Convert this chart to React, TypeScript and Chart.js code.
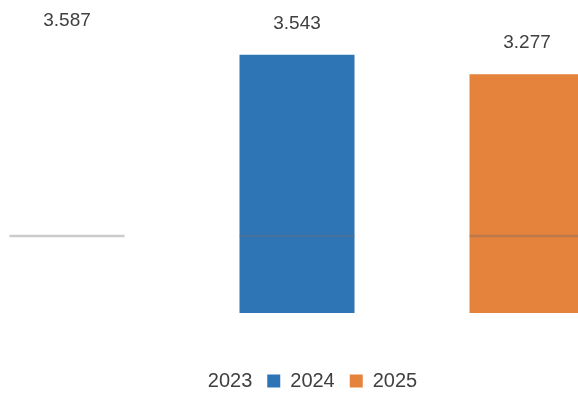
import React, { useEffect, useRef } from "react";
import { Chart, registerables } from "chart.js";

Chart.register(...registerables);

const categories = ["2023", "2024", "2025"];
const seriesNames = ["2023", "2024", "2025"];
const values2023 = [3.587, null, null];
const values2024 = [null, 3.543, null];
const values2025 = [null, null, 3.277];
const markerBand = [[1.04, 1.075], [1.04, 1.075], [1.04, 1.075]];
const seriesColors = ["#FFFFFF", "#2E75B6", "#E5823B"];

const FONT = "'Liberation Sans', Arial, sans-serif";

const valueLabels = {
  id: "valueLabels",
  afterDatasetsDraw(chart: any) {
    const ctx = chart.ctx;
    ctx.save();
    ctx.font = `19px ${FONT}`;
    ctx.fillStyle = "#404040";
    ctx.textAlign = "center";
    ctx.textBaseline = "middle";
    chart.data.datasets.forEach((ds: any, i: number) => {
      if (ds.isMarker) return;
      const meta = chart.getDatasetMeta(i);
      meta.data.forEach((el: any, j: number) => {
        const v = ds.data[j];
        if (v == null) return;
        ctx.fillText(Number(v).toFixed(3), el.x, el.y - 31);
      });
    });
    ctx.restore();
  },
};

export default function App() {
  const ref = useRef<HTMLCanvasElement | null>(null);
  useEffect(() => {
    if (!ref.current) return;
    const barCommon = {
      grouped: false,
      barPercentage: 0.5,
      categoryPercentage: 1.0,
      borderWidth: 0,
      order: 1,
    };
    const chart = new Chart(ref.current, {
      type: "bar",
      data: {
        labels: categories,
        datasets: [
          { label: seriesNames[0], data: values2023, backgroundColor: seriesColors[0], ...barCommon },
          { label: seriesNames[1], data: values2024, backgroundColor: seriesColors[1], ...barCommon },
          { label: seriesNames[2], data: values2025, backgroundColor: seriesColors[2], ...barCommon },
          {
            label: "marker",
            isMarker: true,
            data: markerBand,
            backgroundColor: "rgba(110,110,110,0.35)",
            ...barCommon,
            order: 0,
          } as any,
        ],
      },
      options: {
        responsive: false,
        animation: false,
        layout: { padding: 0 },
        scales: {
          x: { display: false, offset: true, grid: { display: false } },
          y: {
            position: "right",
            display: true,
            min: -0.59,
            max: 4.294,
            ticks: { display: false },
            grid: { display: false },
            border: { display: false },
            afterFit(s: any) {
              s.width = 8;
            },
          },
        },
        plugins: {
          tooltip: { enabled: false },
          legend: {
            position: "bottom",
            labels: {
              font: { size: 20, family: FONT },
              color: "#404040",
              boxWidth: 13,
              boxHeight: 13,
              padding: 15,
              filter: (item: any) => item.text !== "marker",
            },
          },
        },
      },
      plugins: [valueLabels],
    } as any);
    return () => chart.destroy();
  }, []);
  return (
    <div
      style={{
        position: "fixed",
        left: 0,
        top: 0,
        width: 578,
        height: 396,
        overflow: "hidden",
        background: "#fff",
      }}
    >
      <canvas
        ref={ref}
        width={698}
        height={401}
        style={{ position: "absolute", left: -48, top: 0 }}
      />
    </div>
  );
}
